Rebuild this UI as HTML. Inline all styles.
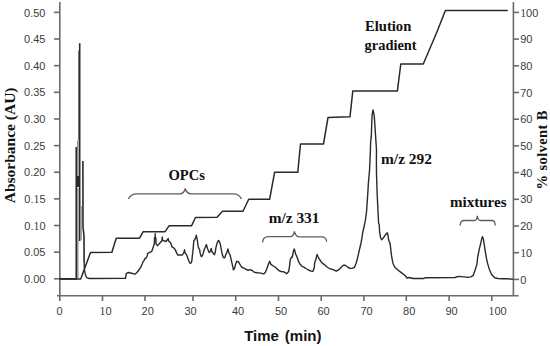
<!DOCTYPE html>
<html><head><meta charset="utf-8"><title>Chromatogram</title>
<style>
html,body{margin:0;padding:0;background:#fff;}
body{width:550px;height:346px;overflow:hidden;font-family:"Liberation Sans",sans-serif;}
svg{display:block;}
</style></head><body>
<svg width="550" height="346" viewBox="0 0 550 346">
<rect width="550" height="346" fill="#fff"/>
<g stroke="#6a6a6a" stroke-width="1.6" fill="none" shape-rendering="auto">
<line x1="59.8" y1="2" x2="59.8" y2="301"/>
<line x1="513.4" y1="2" x2="513.4" y2="296"/>
<line x1="57" y1="295.8" x2="518.5" y2="295.8"/>
<line x1="54" y1="12.40" x2="60" y2="12.40"/>
<line x1="54" y1="39.04" x2="60" y2="39.04"/>
<line x1="54" y1="65.68" x2="60" y2="65.68"/>
<line x1="54" y1="92.32" x2="60" y2="92.32"/>
<line x1="54" y1="118.96" x2="60" y2="118.96"/>
<line x1="54" y1="145.60" x2="60" y2="145.60"/>
<line x1="54" y1="172.24" x2="60" y2="172.24"/>
<line x1="54" y1="198.88" x2="60" y2="198.88"/>
<line x1="54" y1="225.52" x2="60" y2="225.52"/>
<line x1="54" y1="252.16" x2="60" y2="252.16"/>
<line x1="54" y1="278.80" x2="60" y2="278.80"/>
<line x1="513" y1="12.40" x2="519" y2="12.40"/>
<line x1="513" y1="39.10" x2="519" y2="39.10"/>
<line x1="513" y1="65.80" x2="519" y2="65.80"/>
<line x1="513" y1="92.50" x2="519" y2="92.50"/>
<line x1="513" y1="119.20" x2="519" y2="119.20"/>
<line x1="513" y1="145.90" x2="519" y2="145.90"/>
<line x1="513" y1="172.60" x2="519" y2="172.60"/>
<line x1="513" y1="199.30" x2="519" y2="199.30"/>
<line x1="513" y1="226.00" x2="519" y2="226.00"/>
<line x1="513" y1="252.70" x2="519" y2="252.70"/>
<line x1="513" y1="279.40" x2="519" y2="279.40"/>
<line x1="102.5" y1="295.5" x2="102.5" y2="301"/>
<line x1="145" y1="295.5" x2="145" y2="301"/>
<line x1="193" y1="295.5" x2="193" y2="301"/>
<line x1="235.7" y1="295.5" x2="235.7" y2="301"/>
<line x1="278.5" y1="295.5" x2="278.5" y2="301"/>
<line x1="321.2" y1="295.5" x2="321.2" y2="301"/>
<line x1="363.9" y1="295.5" x2="363.9" y2="301"/>
<line x1="406.3" y1="295.5" x2="406.3" y2="301"/>
<line x1="449.1" y1="295.5" x2="449.1" y2="301"/>
<line x1="491.8" y1="295.5" x2="491.8" y2="301"/>
</g>
<g font-family="Liberation Sans, sans-serif" font-size="11" fill="#3c3c3c" text-anchor="end">
<text x="45.5" y="16.50">0.50</text>
<text x="45.5" y="43.14">0.45</text>
<text x="45.5" y="69.78">0.40</text>
<text x="45.5" y="96.42">0.35</text>
<text x="45.5" y="123.06">0.30</text>
<text x="45.5" y="149.70">0.25</text>
<text x="45.5" y="176.34">0.20</text>
<text x="45.5" y="202.98">0.<tspan font-family="Liberation Serif, serif" font-size="11.8">1</tspan>5</text>
<text x="45.5" y="229.62">0.<tspan font-family="Liberation Serif, serif" font-size="11.8">1</tspan>0</text>
<text x="45.5" y="256.26">0.05</text>
<text x="45.5" y="282.90">0.00</text>
</g>
<g font-family="Liberation Sans, sans-serif" font-size="11" fill="#3c3c3c">
<text x="520.2" y="16.50"><tspan font-family="Liberation Serif, serif" font-size="11.8">1</tspan>00</text>
<text x="520.2" y="43.20">90</text>
<text x="520.2" y="69.90">80</text>
<text x="520.2" y="96.60">70</text>
<text x="520.2" y="123.30">60</text>
<text x="520.2" y="150.00">50</text>
<text x="520.2" y="176.70">40</text>
<text x="520.2" y="203.40">30</text>
<text x="520.2" y="230.10">20</text>
<text x="520.2" y="256.80"><tspan font-family="Liberation Serif, serif" font-size="11.8">1</tspan>0</text>
<text x="520.2" y="283.50">0</text>
</g>
<g font-family="Liberation Sans, sans-serif" font-size="11" fill="#3c3c3c">
<text x="56.6" y="315.4">0</text>
<text x="99.6" y="315.4"><tspan font-family="Liberation Serif, serif" font-size="11.8">1</tspan>0</text>
<text x="141.6" y="315.4">20</text>
<text x="184.5" y="315.4">30</text>
<text x="232" y="315.4">40</text>
<text x="275" y="315.4">50</text>
<text x="317.4" y="315.4">60</text>
<text x="360.5" y="315.4">70</text>
<text x="403.1" y="315.4">80</text>
<text x="445.5" y="315.4">90</text>
<text x="488.6" y="315.4"><tspan font-family="Liberation Serif, serif" font-size="11.8">1</tspan>00</text>
</g>
<polyline points="59.5,279.1 80.7,279.1 90.5,252.5 111.9,252.3 116.2,238.2 139.5,238.2 143.2,231.7 165.1,231.7 169,225.8 191.5,225.8 195.5,217.5 217,217.3 222.5,211.3 243,211.3 248.7,199.3 269.6,199.3 274.6,172.3 297.8,172.3 300.5,144 323.5,144 328,117.5 350,116.8 352.8,90.9 397.4,90.9 400.8,64 423.3,64 436.7,32.5 445.4,10.4 507.8,10.4" fill="none" stroke="#2a2a2a" stroke-width="1.5" stroke-linejoin="round"/>
<g fill="none" stroke-linecap="butt">
<path d="M59.5,278.8 H76.3 V147" stroke="#2a2a2a" stroke-width="1.7"/>
<path d="M77.9,278.5 V188" stroke="#6a6a6a" stroke-width="1"/>
<path d="M77.8,140.5 V176" stroke="#8f8f8f" stroke-width="1.6"/>
<rect x="77" y="176" width="2" height="11" fill="#2a2a2a" stroke="none"/>
<path d="M79.7,43.2 V241" stroke="#2a2a2a" stroke-width="1.6"/>
<path d="M78.9,50.6 V140" stroke="#333" stroke-width="1.1"/>
<path d="M81.2,206 V240" stroke="#9a9a9a" stroke-width="1.4"/>
<path d="M82.9,161 L83,227 L84,236 L84.1,262" stroke="#2a2a2a" stroke-width="1.6"/>
</g>
<polyline points="84.1,262 84.5,270 85.3,274.5 86.5,277.2 88,278.3 90,278.5 125.5,278.4 126.3,273.3 128.6,272.5 131.7,273.3 134.9,274.2 136.9,272.5 138.9,270 140.8,267.1 142.3,263.7 142.8,262.2 144.3,260.2 144.8,258.7 146.3,257.8 147.2,255.8 147.7,253.3 149.7,252.4 151.7,251.4 152.6,248.9 153.6,246 154.4,243.5 154.5,237.8 155.15,237.8 155.2,233.6 155.3,237.8 155.9,237.8 156,243.8 157.4,245.7 159.5,243.5 161.9,240.8 162.3,237 162.7,240.4 166,241.5 168.3,238.5 168.7,241.2 170.6,242.7 172,246.8 174.3,248.3 175,249.4 176.2,251.9 177.7,255 179.8,255 182.4,255 184,252.4 184.5,249.8 185,252.4 186.6,255 187.6,257.6 188.7,260.7 189.7,262.8 190.8,263.3 191.8,261.3 192.3,256 192.8,252.4 193.4,245.6 193.9,240.4 194.9,239.4 195.8,237.3 196.3,235.2 197,238.3 197.5,241.5 198,245.6 198.9,248.8 199.6,249.3 200.1,252.9 201.2,256.6 202.2,256 203.2,253.4 204.3,249.3 205.3,247.2 206.4,244.6 207.4,248.2 208.5,251 209.2,252.5 210.3,251.3 211.2,248.5 212,251.9 213.2,253.1 214.4,254.8 215.2,252.5 215.9,247.9 216.7,244.4 217.8,241.5 218.6,240.4 219.6,242.1 220.5,245 221.3,249.6 222.5,255.4 223.6,257.7 224.8,257.7 225.9,254.2 227.1,251.9 227.9,249 228.8,252.5 230.2,255.4 231.1,259.4 232.3,264.6 233.4,269.8 234.4,268.7 235.5,264.6 236.7,261.2 237.5,261.7 238.6,261.7 239.8,264.1 241.5,267 243.8,268.1 246.2,269.3 248,270.4 249.5,269.6 251.9,270.2 254.3,272.3 257.5,272.8 260.6,273.1 263.8,273.9 265.4,272.3 267,268.3 268.6,263.6 269.7,261.2 271,264.4 273.3,266 275.7,267.5 278.1,269.9 280,271.3 281.3,271.5 283.7,271.8 286.1,273.1 286.6,273.7 288.7,271.6 289.7,264.8 290.3,259.6 291.3,257.5 292.3,257 293.2,252.3 294.1,249 294.9,250.8 295.7,254.4 296.7,256 297.5,258.6 298.6,261.7 300.1,264.3 302.2,266.4 304.3,267.4 305.9,268.5 308.5,270 311.1,271.1 313,271.3 314.2,268 314.7,262.8 315.8,259.6 317.1,254.4 317.9,256.5 319.4,259.1 321,261.7 322.5,263.3 324.1,264.3 326.7,266.7 329,268.3 331.4,269.1 333.8,269.9 336.2,271.2 338.6,269.9 341,267.5 343.3,265.2 345.2,265.2 347.4,266.8 349.8,268.4 352.1,268.4 354.5,267.3 356.1,263.3 357.4,258.6 358.5,253.8 359.6,249 360.9,243.5 361.7,239.5 362.8,232 363.8,228 365.4,220.2 366.6,211 367.7,194.7 368.4,183.1 369.6,169.3 370,160 370.4,150 370.7,141.4 371.3,136.2 371.8,122.3 372.1,115.4 373,109.9 374.2,115.4 374.7,122.3 375.6,136.2 376.5,150 376.4,160 376.5,173.9 377.2,194.7 378.1,213.2 378.6,223.1 379.3,225.1 379.6,232.2 380.6,237.8 381.6,239.8 383.1,238.3 385.1,235.2 387.2,232.7 388,235.2 388.7,240.3 390,243.3 390.7,248.4 391.5,255.7 392.9,263.2 394.7,267 397.6,269.8 401.3,272.6 405.1,275.5 407,278 409,277.5 413,278.5 424,278.5 425,277.8 455,277.5 458.2,276.4 461.4,276.6 464.5,276.9 467.7,277.4 470.9,276.9 473.3,275.3 474.4,272.1 475.7,268.2 476.9,264.2 477.7,257 478.5,253.1 479.3,249.1 480.1,245.9 480.9,242.7 481.7,238.7 482.5,236.7 483.3,238.7 484.1,243.5 484.9,249.1 485.7,253.8 486.5,258.6 487.6,263.4 489.2,269 491.6,274.5 494.7,277.7 497.9,278.5 502.7,278.8 507.5,278.8 513,279.3" fill="none" stroke="#2a2a2a" stroke-width="1.4" stroke-linejoin="round"/>
<g fill="none" stroke="#5e5e5e" stroke-width="1.3">
<path d="M128.5,199 C130,195 133,193.8 137,193.8 L179.5,193.8 C182.5,193.8 184.5,192 185.3,188.5 C186,192 188.5,193.8 191.5,193.8 L233.5,193.8 C237.5,193.8 240,195.5 241.5,199"/>
<path d="M262.5,242.4 C263,238.5 265,236.7 268,236.7 L290,236.7 C292.5,236.7 294,234.5 294.4,231.3 C295,234.5 296.5,236.8 300,236.8 L321.5,236.8 C324.5,236.8 326.5,238.5 326.7,241.8"/>
<path d="M460.1,225.6 C460.3,222 461.5,220.5 464,220.5 L474.5,220.5 C476.3,220.5 477,218.5 477.3,215.7 C477.6,218.5 478.5,220.5 480.5,220.5 L492,220.5 C494.3,220.5 495.2,222 495.2,225.6"/>
</g>
<g font-family="Liberation Serif, serif" font-weight="bold" fill="#111">
<text x="365" y="30.5" font-size="14.5" textLength="46.3" lengthAdjust="spacingAndGlyphs">Elution</text>
<text x="364.6" y="50.3" font-size="14.3" textLength="52" lengthAdjust="spacingAndGlyphs">gradient</text>
<text x="168.5" y="180" font-size="14.5" textLength="36.5" lengthAdjust="spacingAndGlyphs">OPCs</text>
<text x="268.7" y="222.7" font-size="14.5" textLength="50.8" lengthAdjust="spacingAndGlyphs">m/z 331</text>
<text x="381" y="164" font-size="14.5" textLength="51" lengthAdjust="spacingAndGlyphs">m/z 292</text>
<text x="450" y="206.8" font-size="14.5" textLength="56.5" lengthAdjust="spacingAndGlyphs">mixtures</text>
<text transform="translate(15,203.3) rotate(-90)" font-size="15.5">Absorbance (AU)</text>
<text transform="translate(547,189.5) rotate(-90)" font-size="14.5" textLength="79" lengthAdjust="spacing">% solvent B</text>
</g>
<g font-family="Liberation Sans, sans-serif" font-weight="bold" font-size="15" fill="#111">
<text x="244.2" y="340.6">Time</text>
<text x="284.8" y="340.6">(min)</text>
</g>
</svg>
</body></html>
